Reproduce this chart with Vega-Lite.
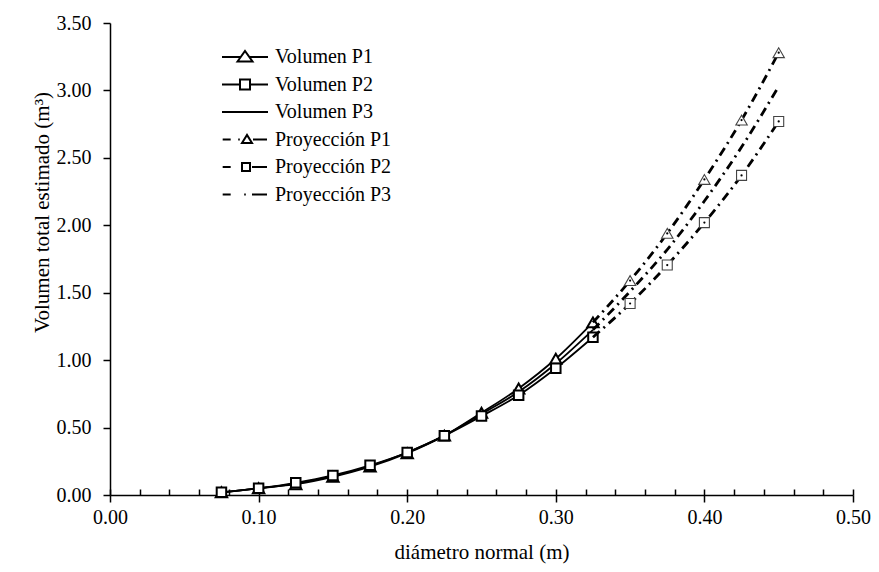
{
  "$schema": "https://vega.github.io/schema/vega-lite/v6.json",
  "width": 743,
  "height": 472,
  "autosize": "none",
  "padding": {"left": 110, "top": 23, "right": 26, "bottom": 77},
  "background": "white",
  "config": {
    "view": {"stroke": null},
    "font": "Liberation Serif, Times New Roman, serif",
    "axis": {"labelFont": "Liberation Serif, Times New Roman, serif", "titleFont": "Liberation Serif, Times New Roman, serif", "labelColor": "black", "titleColor": "black", "grid": false},
    "legend": {"labelFont": "Liberation Serif, Times New Roman, serif"}
  },
  "data": {
    "values": [
      {"d": 0.075, "v": 0.02, "serie": "Volumen P1"},
      {"d": 0.1, "v": 0.05, "serie": "Volumen P1"},
      {"d": 0.125, "v": 0.08, "serie": "Volumen P1"},
      {"d": 0.15, "v": 0.135, "serie": "Volumen P1"},
      {"d": 0.175, "v": 0.21, "serie": "Volumen P1"},
      {"d": 0.2, "v": 0.31, "serie": "Volumen P1"},
      {"d": 0.225, "v": 0.44, "serie": "Volumen P1"},
      {"d": 0.25, "v": 0.61, "serie": "Volumen P1"},
      {"d": 0.275, "v": 0.79, "serie": "Volumen P1"},
      {"d": 0.3, "v": 1.01, "serie": "Volumen P1"},
      {"d": 0.325, "v": 1.28, "serie": "Volumen P1"},
      {"d": 0.075, "v": 0.02, "serie": "Volumen P2"},
      {"d": 0.1, "v": 0.05, "serie": "Volumen P2"},
      {"d": 0.125, "v": 0.09, "serie": "Volumen P2"},
      {"d": 0.15, "v": 0.145, "serie": "Volumen P2"},
      {"d": 0.175, "v": 0.22, "serie": "Volumen P2"},
      {"d": 0.2, "v": 0.315, "serie": "Volumen P2"},
      {"d": 0.225, "v": 0.44, "serie": "Volumen P2"},
      {"d": 0.25, "v": 0.585, "serie": "Volumen P2"},
      {"d": 0.275, "v": 0.74, "serie": "Volumen P2"},
      {"d": 0.3, "v": 0.94, "serie": "Volumen P2"},
      {"d": 0.325, "v": 1.17, "serie": "Volumen P2"},
      {"d": 0.075, "v": 0.02, "serie": "Volumen P3"},
      {"d": 0.1, "v": 0.05, "serie": "Volumen P3"},
      {"d": 0.125, "v": 0.085, "serie": "Volumen P3"},
      {"d": 0.15, "v": 0.14, "serie": "Volumen P3"},
      {"d": 0.175, "v": 0.215, "serie": "Volumen P3"},
      {"d": 0.2, "v": 0.315, "serie": "Volumen P3"},
      {"d": 0.225, "v": 0.44, "serie": "Volumen P3"},
      {"d": 0.25, "v": 0.6, "serie": "Volumen P3"},
      {"d": 0.275, "v": 0.765, "serie": "Volumen P3"},
      {"d": 0.3, "v": 0.975, "serie": "Volumen P3"},
      {"d": 0.325, "v": 1.225, "serie": "Volumen P3"},
      {"d": 0.325, "v": 1.28, "serie": "Proyección P1"},
      {"d": 0.35, "v": 1.59, "serie": "Proyección P1"},
      {"d": 0.375, "v": 1.94, "serie": "Proyección P1"},
      {"d": 0.4, "v": 2.34, "serie": "Proyección P1"},
      {"d": 0.425, "v": 2.78, "serie": "Proyección P1"},
      {"d": 0.45, "v": 3.28, "serie": "Proyección P1"},
      {"d": 0.325, "v": 1.17, "serie": "Proyección P2"},
      {"d": 0.35, "v": 1.42, "serie": "Proyección P2"},
      {"d": 0.375, "v": 1.705, "serie": "Proyección P2"},
      {"d": 0.4, "v": 2.02, "serie": "Proyección P2"},
      {"d": 0.425, "v": 2.37, "serie": "Proyección P2"},
      {"d": 0.45, "v": 2.77, "serie": "Proyección P2"},
      {"d": 0.325, "v": 1.225, "serie": "Proyección P3"},
      {"d": 0.35, "v": 1.51, "serie": "Proyección P3"},
      {"d": 0.375, "v": 1.82, "serie": "Proyección P3"},
      {"d": 0.4, "v": 2.18, "serie": "Proyección P3"},
      {"d": 0.425, "v": 2.58, "serie": "Proyección P3"},
      {"d": 0.45, "v": 3.03, "serie": "Proyección P3"}
    ]
  },
  "layer": [
    {
      "layer": [
        {
          "transform": [{"filter": "indexof(datum.serie, 'Volumen') == 0"}],
          "mark": {"type": "line", "color": "black", "strokeWidth": 1.8, "interpolate": "monotone"},
          "encoding": {
            "x": {
              "field": "d", "type": "quantitative",
              "scale": {"domain": [0, 0.5], "nice": false, "zero": false},
              "axis": {
                "values": [0, 0.1, 0.2, 0.3, 0.4, 0.5], "format": ".2f",
                "tickSize": 7, "tickWidth": 1.5, "tickColor": "black",
                "domainColor": "black", "domainWidth": 1.5,
                "labelFontSize": 20, "labelPadding": 5, "labelFlush": false, "labelOverlap": false,
                "title": "diámetro normal (m)", "titleFontSize": 21, "titleFontWeight": "normal", "titlePadding": 14
              }
            },
            "y": {
              "field": "v", "type": "quantitative",
              "scale": {"domain": [0, 3.5], "nice": false, "zero": true},
              "axis": {
                "values": [0, 0.5, 1, 1.5, 2, 2.5, 3, 3.5], "format": ".2f",
                "tickSize": 7, "tickWidth": 1.5, "tickColor": "black",
                "domainColor": "black", "domainWidth": 1.5,
                "labelFontSize": 20, "labelPadding": 12, "labelFlush": false, "labelOverlap": false,
                "title": "Volumen total estimado (m³)", "titleFontSize": 21, "titleFontWeight": "normal", "titleY": 189
              }
            },
            "detail": {"field": "serie"}
          }
        },
        {
          "transform": [{"filter": "datum.serie == 'Volumen P1'"}],
          "mark": {"type": "point", "shape": "triangle-up", "size": 130, "filled": true, "fill": "white", "stroke": "black", "strokeWidth": 2, "opacity": 1},
          "encoding": {
            "x": {"field": "d", "type": "quantitative"},
            "y": {"field": "v", "type": "quantitative"}
          }
        },
        {
          "transform": [{"filter": "datum.serie == 'Volumen P2'"}],
          "mark": {"type": "point", "shape": "square", "size": 90, "filled": true, "fill": "white", "stroke": "black", "strokeWidth": 2, "opacity": 1},
          "encoding": {
            "x": {"field": "d", "type": "quantitative"},
            "y": {"field": "v", "type": "quantitative"}
          }
        },
        {
          "transform": [{"filter": "indexof(datum.serie, 'Proyección') == 0"}],
          "mark": {"type": "line", "color": "black", "strokeWidth": 2.8, "strokeDash": [9, 5, 2, 5], "interpolate": "monotone"},
          "encoding": {
            "x": {"field": "d", "type": "quantitative"},
            "y": {"field": "v", "type": "quantitative"},
            "detail": {"field": "serie"}
          }
        },
        {
          "transform": [{"filter": "datum.serie == 'Proyección P1' && datum.d > 0.33"}],
          "mark": {"type": "point", "shape": "triangle-up", "size": 130, "filled": true, "fill": "white", "stroke": "#444444", "strokeWidth": 1.1, "opacity": 1},
          "encoding": {
            "x": {"field": "d", "type": "quantitative"},
            "y": {"field": "v", "type": "quantitative"}
          }
        },
        {
          "transform": [{"filter": "datum.serie == 'Proyección P2' && datum.d > 0.33"}],
          "mark": {"type": "point", "shape": "square", "size": 100, "filled": true, "fill": "white", "stroke": "#444444", "strokeWidth": 1.1, "opacity": 1},
          "encoding": {
            "x": {"field": "d", "type": "quantitative"},
            "y": {"field": "v", "type": "quantitative"}
          }
        },
        {
          "transform": [{"filter": "(datum.serie == 'Proyección P1' || datum.serie == 'Proyección P2') && datum.d > 0.33"}],
          "mark": {"type": "point", "shape": "circle", "size": 5, "filled": true, "color": "black", "opacity": 1},
          "encoding": {
            "x": {"field": "d", "type": "quantitative"},
            "y": {"field": "v", "type": "quantitative"}
          }
        }
      ]
    },
    {
      "transform": [{"filter": "datum.d < 0"}],
      "mark": {"type": "point", "filled": false, "color": "black", "strokeWidth": 2, "opacity": 1},
      "encoding": {
        "x": {
          "field": "d", "type": "quantitative",
          "scale": {"domain": [0, 0.5], "nice": false, "zero": false},
          "axis": {
            "orient": "top", "offset": -472,
            "values": [0, 0.02, 0.04, 0.06, 0.08, 0.1, 0.12, 0.14, 0.16, 0.18, 0.2, 0.22, 0.24, 0.26, 0.28, 0.3, 0.32, 0.34, 0.36, 0.38, 0.4, 0.42, 0.44, 0.46, 0.48, 0.5],
            "tickSize": 6, "tickWidth": 1.5, "tickColor": "black",
            "labels": false, "domain": false, "title": null, "grid": false
          }
        },
        "shape": {
          "field": "serie", "type": "nominal",
          "scale": {
            "domain": ["Volumen P1", "Volumen P2", "Volumen P3", "Proyección P1", "Proyección P2", "Proyección P3"],
            "range": [
              "M-2.5,0H2.18M4.33,0H9M1.38,1.13L3.25,-1.5L5.13,1.13Z",
              "M-2.5,0H2M4.5,0H9M2,-1.25H4.5V1.25H2Z",
              "M-2.5,0H9",
              "M-2.33,0H-0.33M1.55,0H1.95M2.5,0.88L3.75,-1.13L5,0.88ZM5.25,0H8.75",
              "M-2.33,0H-0.33M2.5,-1H4.5V1H2.5ZM5,0H8.75",
              "M-2.33,0H-0.33M3.05,0H3.45M5,0H8.75"
            ]
          },
          "legend": {
            "orient": "none", "legendX": 112, "legendY": 24, "title": null,
            "labelFontSize": 20, "labelColor": "black", "labelOffset": 33,
            "symbolSize": 64, "symbolStrokeWidth": 2, "symbolStrokeColor": "black", "symbolOpacity": 1,
            "rowPadding": 7.5, "padding": 0, "symbolOffset": 0
          }
        }
      }
    }
  ],
  "resolve": {"axis": {"x": "independent"}}
}
